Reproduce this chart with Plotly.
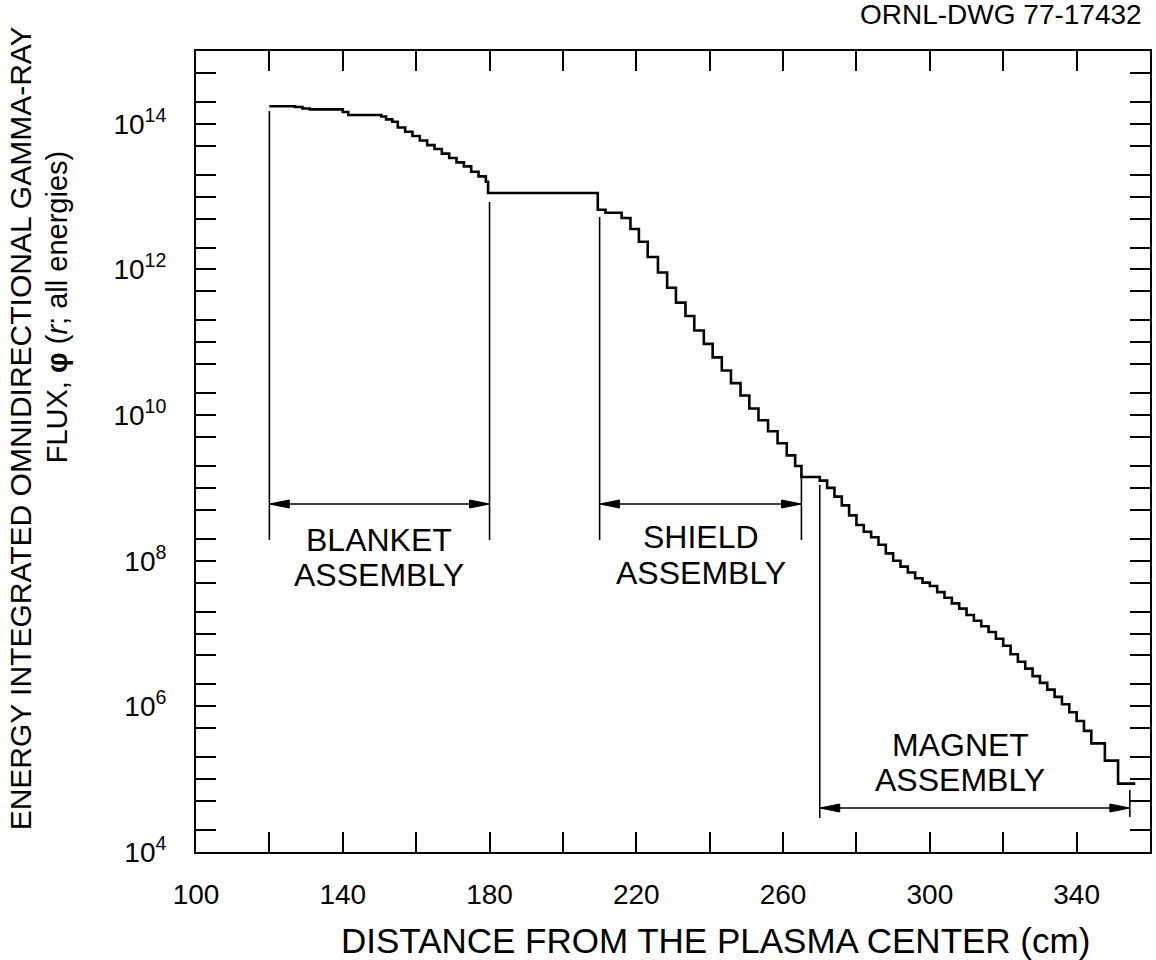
import plotly.graph_objects as go

# ---- Data: distance from plasma center r (cm) and flux ----
# Each point marks the start of a flat step (step plot, horizontal-then-vertical)
blanket_r = [120, 127, 129, 131, 140, 141.5, 150.5, 151.8, 153.5, 155, 157, 159, 161,
             163, 165, 167, 169, 171, 173, 175, 177, 179, 179.6]
blanket_flux = [1.74e14, 1.70e14, 1.62e14, 1.58e14, 1.45e14, 1.32e14, 1.26e14, 1.15e14,
                1.07e14, 8.9e13, 7.8e13, 6.8e13, 5.9e13, 5.1e13, 4.5e13, 3.9e13, 3.4e13,
                2.95e13, 2.6e13, 2.2e13, 1.9e13, 1.6e13, 1.12e13]

shield_r = [209.5, 211.6, 216.0, 218.4, 220.7, 223.1, 225.9, 228.4, 230.8, 233.4, 235.8,
            238.4, 240.8, 243.3, 245.8, 248.4, 250.8, 253.3, 255.9, 258.5, 261.0, 263.3,
            265.0]
shield_flux = [6.6e12, 6.0e12, 5.1e12, 3.6e12, 2.4e12, 1.48e12, 9.1e11, 5.6e11, 3.5e11,
               2.3e11, 1.45e11, 9.5e10, 6.2e10, 4.1e10, 2.75e10, 1.86e10, 1.23e10, 8.5e9,
               6.0e9, 4.1e9, 2.8e9, 2.0e9, 1.41e9]

magnet_r = [270, 272, 274, 276, 278, 280, 282, 284, 286, 288, 290, 292, 294, 296, 298,
            300, 302, 304, 306, 308, 310, 312, 314, 316, 318, 320, 322, 324, 326, 328,
            330, 332, 334, 336, 338, 340, 342, 344, 347.7, 351.3, 356]
magnet_flux = [1.26e9, 1.0e9, 7.6e8, 5.75e8, 4.2e8, 3.1e8, 2.5e8, 2.1e8, 1.66e8, 1.26e8,
               1.0e8, 8.3e7, 6.9e7, 5.75e7, 5.0e7, 4.5e7, 3.7e7, 3.1e7, 2.6e7, 2.2e7,
               1.8e7, 1.5e7, 1.26e7, 1.05e7, 8.5e6, 6.8e6, 5.2e6, 4.1e6, 3.3e6, 2.6e6,
               2.1e6, 1.7e6, 1.35e6, 1.07e6, 8.3e5, 6.3e5, 4.6e5, 3.1e5, 1.8e5, 8.7e4,
               8.7e4]

# Region boundaries (cm)
regions = ["BLANKET", "SHIELD", "MAGNET"]
region_start = [120, 210, 270]
region_end = [180, 265, 354.5]

# Axis ticks
x_label_vals = [100, 140, 180, 220, 260, 300, 340]
x_label_text = ["100", "140", "180", "220", "260", "300", "340"]
x_minor_vals = [120, 160, 200, 240, 280, 320, 360]
y_labeled_decades = [4, 6, 8, 10, 12, 14]
y_decades = list(range(4, 16))
y_mantissas = [1, 2, 5]

y_label_vals = [10.0 ** e for e in y_labeled_decades]
y_label_text = [f"10<sup>{e}</sup>" for e in y_labeled_decades]
y_minor_vals = [m * 10.0 ** e for e in y_decades for m in y_mantissas
                if not (m == 1 and e in y_labeled_decades) and m * 10.0 ** e <= 1e15]

# ---- Layout geometry (pixels -> paper) ----
L, R, T, B = 196, 1152, 51, 852
W, H = 1156, 960
PX_PER_CM = (R - L) / 260.0


def px_x(p):
    return (p - L) / (R - L)


def px_y(p):
    return (B - p) / (B - T)


FONT = "Liberation Sans, Arial, sans-serif"

fig = go.Figure()
fig.add_trace(go.Scatter(
    x=blanket_r + shield_r + magnet_r,
    y=blanket_flux + shield_flux + magnet_flux,
    mode="lines", line=dict(color="black", width=2.6, shape="hv"),
    showlegend=False, hoverinfo="skip"))

axis_common = dict(
    showline=True, mirror="ticks", linecolor="black", linewidth=2,
    ticks="inside", ticklen=20, tickwidth=2, tickcolor="black",
    showgrid=False, zeroline=False,
    tickfont=dict(family=FONT, size=28, color="black"),
)
minor_common = dict(ticks="inside", ticklen=20, tickwidth=2, tickcolor="black",
                    showgrid=False)

fig.update_xaxes(range=[100, 360], tickmode="array", tickvals=x_label_vals,
                 ticktext=x_label_text, ticklabelstandoff=16,
                 minor=dict(tickvals=x_minor_vals, **minor_common), **axis_common)
fig.update_yaxes(type="log", range=[4, 15], tickmode="array", tickvals=y_label_vals,
                 ticktext=y_label_text, ticklabelstandoff=22,
                 minor=dict(tickvals=y_minor_vals, **minor_common), **axis_common)

shapes = []
# vertical region markers (pixel extents)
marker_lines = [
    (region_start[0], 540, 111), (region_end[0], 540, 202),
    (region_start[1], 540, 217), (region_end[1], 540, 473),
    (region_start[2], 818, 485), (region_end[2], 817, 790),
]
for xv, pb, pt in marker_lines:
    shapes.append(dict(type="line", xref="x", yref="paper", x0=xv, x1=xv,
                       y0=px_y(pb), y1=px_y(pt), line=dict(color="black", width=1.6)))

# double-headed dimension arrows
arrow_y_px = [504, 504, 808]
head_len = 20 / PX_PER_CM          # arrowhead length in cm
head_half = 4.0 / (B - T)          # arrowhead half-width in paper units
for s, e, py in zip(region_start, region_end, arrow_y_px):
    yp = px_y(py)
    shapes.append(dict(type="line", xref="x", yref="paper", x0=s, x1=e, y0=yp, y1=yp,
                       line=dict(color="black", width=1.6)))
    for tip, back in ((s, s + head_len), (e, e - head_len)):
        shapes.append(dict(
            type="path", xref="x", yref="paper",
            path=f"M {tip},{yp} L {back},{yp + head_half} L {back},{yp - head_half} Z",
            fillcolor="black", line=dict(color="black", width=1)))

annotations = []
label_font = dict(family=FONT, size=32, color="black")
label_pos = [(150, 540, 575), (237.5, 537, 573), (308.3, 745, 780)]
for name, (xc, y1, y2) in zip(regions, label_pos):
    annotations.append(dict(x=xc, y=px_y(y1), xref="x", yref="paper", text=name,
                            showarrow=False, font=label_font, xanchor="center",
                            yanchor="middle"))
    annotations.append(dict(x=xc, y=px_y(y2), xref="x", yref="paper", text="ASSEMBLY",
                            showarrow=False, font=label_font, xanchor="center",
                            yanchor="middle"))

# axis titles
annotations.append(dict(x=px_x(717), y=px_y(940), xref="paper", yref="paper",
                        text="DISTANCE FROM THE PLASMA CENTER (cm)", showarrow=False,
                        font=dict(family=FONT, size=35, color="black"),
                        xanchor="center", yanchor="middle"))
annotations.append(dict(x=px_x(20), y=px_y(428), xref="paper", yref="paper",
                        text="ENERGY INTEGRATED OMNIDIRECTIONAL GAMMA-RAY",
                        showarrow=False, textangle=-90,
                        font=dict(family=FONT, size=30, color="black"),
                        xanchor="center", yanchor="middle"))
annotations.append(dict(x=px_x(57), y=px_y(307), xref="paper", yref="paper",
                        text="FLUX, <b>φ</b> (<i>r</i>; all energies)",
                        showarrow=False, textangle=-90,
                        font=dict(family=FONT, size=29, color="black"),
                        xanchor="center", yanchor="middle"))
annotations.append(dict(x=px_x(1146), y=px_y(14), xref="paper", yref="paper",
                        text="ORNL-DWG 77-17432", showarrow=False,
                        font=dict(family=FONT, size=28, color="black"),
                        xanchor="right", yanchor="middle"))

fig.update_layout(
    width=W, height=H,
    margin=dict(l=L, r=W - R, t=T, b=H - B),
    paper_bgcolor="white", plot_bgcolor="white",
    shapes=shapes, annotations=annotations, showlegend=False,
)

fig.write_html("out.html")
